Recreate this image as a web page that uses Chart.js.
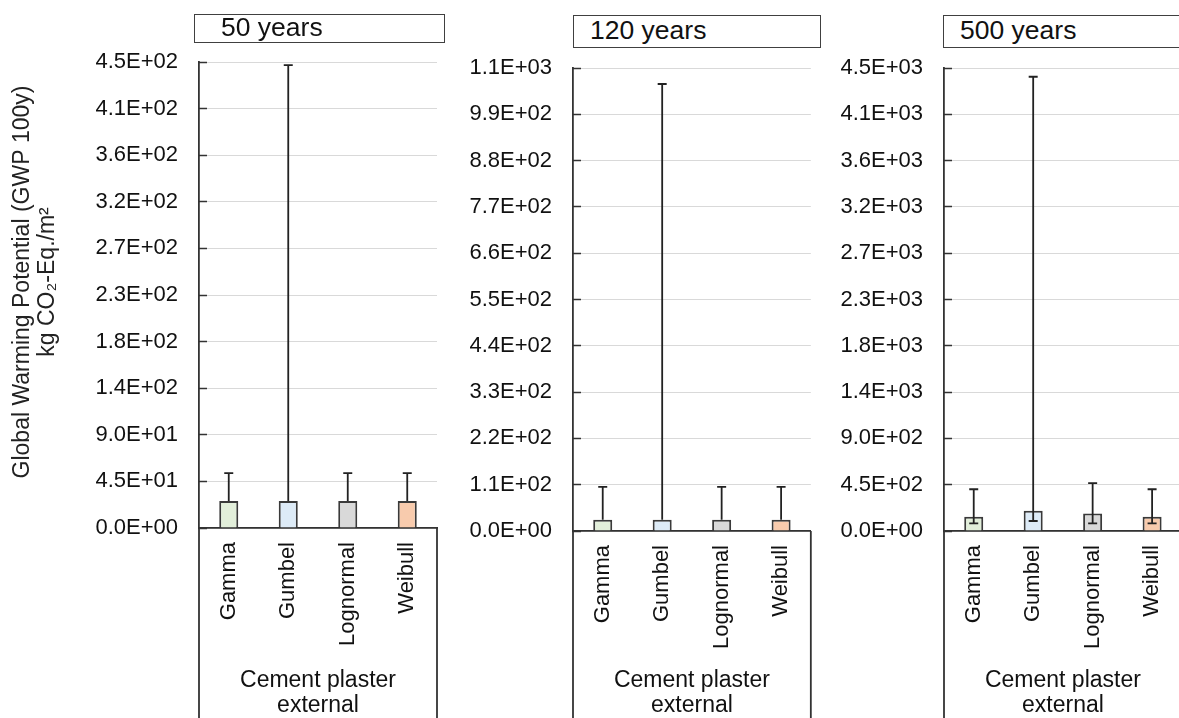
<!DOCTYPE html>
<html>
<head>
<meta charset="utf-8">
<script src="https://cdn.jsdelivr.net/npm/chart.js@4.4.1/dist/chart.umd.min.js"></script>
<style>
  body {
    margin: 0;
    background: #fff;
    width: 1179px;
    height: 718px;
    overflow: hidden;
    position: relative;
    font-family: "Liberation Sans", Arial, sans-serif;
  }
  canvas { position: absolute; top: 0; }
  .title-box {
    position: absolute;
    box-sizing: border-box;
    border: 1.5px solid #404040;
    background: #fff;
    color: #111;
    font-size: 26.5px;
    white-space: nowrap;
    z-index: 2;
  }
</style>
</head>
<body>
<div class="title-box" style="left:194px; top:14px; width:251px; height:29px; line-height:25px; padding-left:26px;">50 years</div>
<div class="title-box" style="left:573px; top:15px; width:248px; height:33px; line-height:29px; padding-left:16px;">120 years</div>
<div class="title-box" style="left:943px; top:15px; width:260px; height:33px; line-height:29px; padding-left:16px;">500 years</div>

<canvas id="chart50" width="450" height="718" style="left:0px"></canvas>
<canvas id="chart120" width="380" height="718" style="left:443px"></canvas>
<canvas id="chart500" width="380" height="718" style="left:814px"></canvas>

<script>
const categories = ["Gamma", "Gumbel", "Lognormal", "Weibull"];
const barColors = ["#e2efda", "#ddebf7", "#d9d9d9", "#f8cbad"];
const xTitle = ["Cement plaster", "external"];
const yTitle = ["Global Warming Potential (GWP 100y)", "kg CO\u2082-Eq./m\u00b2"];

// 50 years
const gwp50 = [26, 26, 26, 26];
const gwp50High = [53, 447, 53, 53];
const ticks50 = ["0.0E+00", "4.5E+01", "9.0E+01", "1.4E+02", "1.8E+02", "2.3E+02",
  "2.7E+02", "3.2E+02", "3.6E+02", "4.1E+02", "4.5E+02"];

// 120 years
const gwp120 = [27, 27, 27, 27];
const gwp120High = [105, 1062, 105, 105];
const ticks120 = ["0.0E+00", "1.1E+02", "2.2E+02", "3.3E+02", "4.4E+02", "5.5E+02",
  "6.6E+02", "7.7E+02", "8.8E+02", "9.9E+02", "1.1E+03"];

// 500 years
const gwp500 = [139, 198, 169, 139];
const gwp500High = [406, 4415, 465, 406];
const gwp500Low = [75, 97, 75, 75];
const ticks500 = ["0.0E+00", "4.5E+02", "9.0E+02", "1.4E+03", "1.8E+03", "2.3E+03",
  "2.7E+03", "3.2E+03", "3.6E+03", "4.1E+03", "4.5E+03"];

const FONT = "'Liberation Sans', Arial, sans-serif";
const INK = "#111";
const LINE = "#333";

// error bars: line from low (or bar top) to high with caps
const errorBars = {
  id: "errorBars",
  afterDatasetsDraw(chart, args, opts) {
    const { ctx } = chart;
    const yScale = chart.scales.y;
    const meta = chart.getDatasetMeta(0);
    ctx.save();
    ctx.strokeStyle = "#222";
    ctx.lineWidth = 1.8;
    meta.data.forEach((bar, i) => {
      const x = bar.x;
      const yHigh = yScale.getPixelForValue(opts.high[i]);
      const yLow = opts.low ? yScale.getPixelForValue(opts.low[i]) : bar.y;
      ctx.beginPath();
      ctx.moveTo(x, yLow);
      ctx.lineTo(x, yHigh);
      ctx.moveTo(x - 4.5, yHigh);
      ctx.lineTo(x + 4.5, yHigh);
      if (opts.low) {
        ctx.moveTo(x - 4.5, yLow);
        ctx.lineTo(x + 4.5, yLow);
      }
      ctx.stroke();
    });
    ctx.restore();
  },
};

// open box under the plot that holds the category labels
const categoryBox = {
  id: "categoryBox",
  afterDraw(chart) {
    const { ctx, chartArea } = chart;
    ctx.save();
    ctx.strokeStyle = LINE;
    ctx.lineWidth = 1.8;
    ctx.beginPath();
    ctx.moveTo(chartArea.left, chartArea.bottom);
    ctx.lineTo(chartArea.left, chart.height);
    ctx.moveTo(chartArea.right, chartArea.bottom);
    ctx.lineTo(chartArea.right, chart.height);
    ctx.stroke();
    ctx.restore();
  },
};

// two-line rotated y axis title, only on the first panel
const yAxisTitle = {
  id: "yAxisTitle",
  afterDraw(chart) {
    const { ctx } = chart;
    ctx.save();
    ctx.fillStyle = "#222";
    ctx.font = "23px " + FONT;
    ctx.textAlign = "center";
    ctx.textBaseline = "middle";
    yTitle.forEach((line, i) => {
      ctx.save();
      ctx.translate(23 + i * 25, 282);
      ctx.rotate(-Math.PI / 2);
      ctx.fillText(line, 0, 0);
      ctx.restore();
    });
    ctx.restore();
  },
};

function makePanel(id, values, high, low, tickLabels, yMax, yStep, box) {
  const extra = id === "chart50" ? [yAxisTitle] : [];
  return new Chart(document.getElementById(id), {
    type: "bar",
    data: {
      labels: categories,
      datasets: [{
        data: values,
        backgroundColor: barColors,
        borderColor: "#3a3a3a",
        borderWidth: 2,
        barPercentage: 0.32,
        categoryPercentage: 1,
      }],
    },
    options: {
      responsive: false,
      animation: false,
      layout: { padding: { top: box.top, right: box.right, bottom: 0, left: 0 } },
      plugins: {
        legend: { display: false },
        tooltip: { enabled: false },
        errorBars: { high: high, low: low },
      },
      scales: {
        x: {
          grid: { display: false, drawTicks: false },
          border: { color: LINE, width: 1.8 },
          ticks: {
            autoSkip: false,
            minRotation: 90,
            maxRotation: 90,
            padding: 14,
            color: INK,
            font: { size: 22, family: FONT },
          },
          title: {
            display: true,
            text: xTitle,
            color: INK,
            font: { size: 23, family: FONT, lineHeight: 1.09 },
            padding: { top: 0, bottom: 0 },
          },
          afterFit(scale) { scale.height = box.xHeight; },
        },
        y: {
          min: 0,
          max: yMax,
          grid: { color: "#d9d9d9", lineWidth: 1, tickLength: -8, tickColor: LINE, tickWidth: 1.5 },
          border: { color: LINE, width: 1.8 },
          ticks: {
            stepSize: yStep,
            padding: 29,
            color: INK,
            font: { size: 22, family: FONT },
            callback: (value, index) => tickLabels[index],
          },
          afterFit(scale) { scale.width = box.yWidth; },
        },
      },
    },
    plugins: [errorBars, categoryBox, ...extra],
  });
}

makePanel("chart50", gwp50, gwp50High, null, ticks50, 450, 45,
  { top: 62, right: 13, yWidth: 199, xHeight: 190 });
makePanel("chart120", gwp120, gwp120High, null, ticks120, 1100, 110,
  { top: 68, right: 12, yWidth: 130, xHeight: 187 });
makePanel("chart500", gwp500, gwp500High, gwp500Low, ticks500, 4500, 450,
  { top: 68, right: 12, yWidth: 130, xHeight: 187 });
</script>
</body>
</html>
